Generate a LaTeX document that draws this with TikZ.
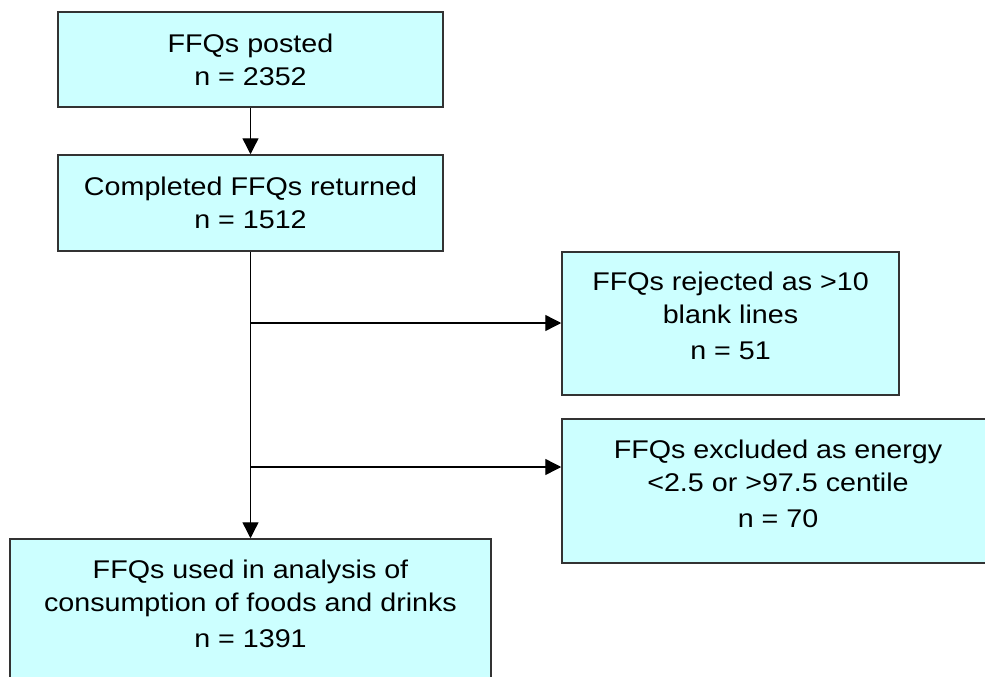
\documentclass[tikz,border=0pt]{standalone}
\usepackage{fontspec}
\setmainfont{Liberation Sans}[FakeStretch=1.12]
\usetikzlibrary{arrows.meta}
\definecolor{boxfill}{HTML}{CCFFFF}
\definecolor{boxline}{HTML}{333333}
\tikzset{
    flowbox/.style={draw=boxline, line width=1.5pt, fill=boxfill, align=center, inner sep=0pt,
        font=\fontsize{25.6}{33}\selectfont},
    flowarrow/.style={line width=1.4pt, -{Triangle[length=16pt,width=16pt]}}
}
\begin{document}
\begin{tikzpicture}[x=1pt,y=-1pt]
    \clip (0,0) rectangle (985,677);
    \useasboundingbox (0,0) rectangle (985,677);

    % Main column
    \node[flowbox, minimum width=385pt, minimum height=95pt] (posted) at (250.5,59.5) {FFQs posted\\n = 2352};
    \node[flowbox, minimum width=385pt, minimum height=96pt] (returned) at (250.5,203) {Completed FFQs returned\\n = 1512};
    \node[flowbox, minimum width=481pt, minimum height=144pt, text depth=15pt] (used) at (250.5,611) {FFQs used in analysis of\\consumption of foods and drinks\\[3pt]n = 1391};

    % Exclusions
    \node[flowbox, minimum width=337pt, minimum height=143pt, text depth=15pt] (rejected) at (730.5,323.5) {FFQs rejected as >10\\blank lines\\[3pt]n = 51};
    \node[flowbox, minimum width=432pt, minimum height=144pt, text depth=15pt] (excluded) at (778,491) {FFQs excluded as energy\\<2.5 or >97.5 centile\\[3pt]n = 70};

    \coordinate (j1) at (250.5,323);
    \coordinate (j2) at (250.5,467);

    \draw[flowarrow] (posted) -- (returned);
    \draw[flowarrow] (returned) -- (used);
    \draw[flowarrow] (j1) -- (j1 -| rejected.west);
    \draw[flowarrow] (j2) -- (j2 -| excluded.west);
\end{tikzpicture}
\end{document}
